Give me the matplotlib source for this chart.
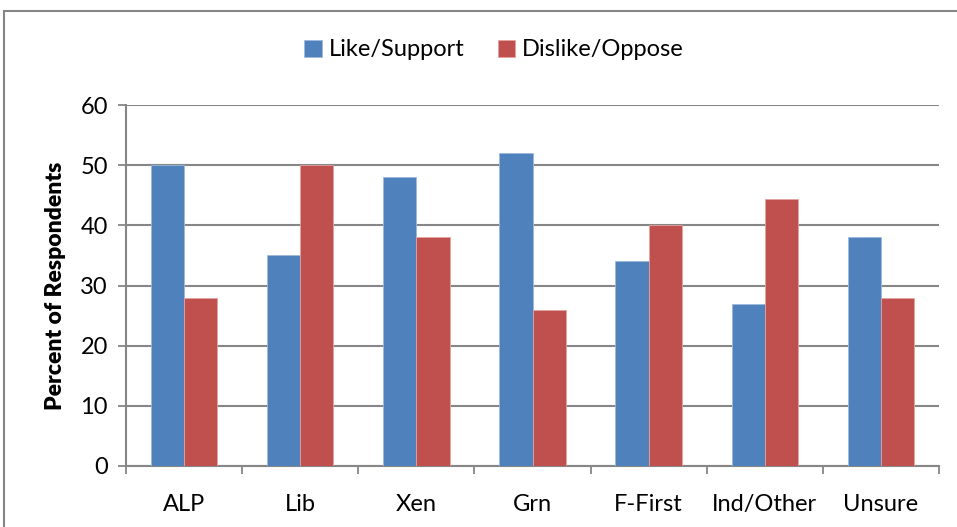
import numpy as np
import matplotlib.pyplot as plt
from matplotlib.patches import Rectangle

## Data
parties = ["ALP", "Lib", "Xen", "Grn", "F-First", "Ind/Other", "Unsure"]
like_support = [50, 35, 48, 52, 34, 27, 38]
dislike_oppose = [28, 50, 38, 26, 40, 44.4, 28]

blue = "#4F81BD"
red = "#C0504D"
grey = "#868686"

plt.rcParams['font.family'] = ['Lato', 'DejaVu Sans']

fig = plt.figure(figsize=(9.57, 5.27), dpi=100)
ax = fig.add_axes([126/957, 1 - 466/527, (939 - 126)/957, (466 - 105)/527])

# outer chart border like excel
fig.patches.append(Rectangle((4/957, -0.05), 1.1, 1 - 11/527 + 0.05,
                             transform=fig.transFigure, fill=False,
                             edgecolor=grey, linewidth=1.5))

x = np.arange(len(parties))
w = 1 / 3.5
ax.bar(x - w/2, like_support, w, color=blue, edgecolor="#9DB9DC", linewidth=0.6,
       label="Like/Support", zorder=3)
ax.bar(x + w/2, dislike_oppose, w, color=red, edgecolor="#E3A3A1", linewidth=0.6,
       label="Dislike/Oppose", zorder=3)

ax.set_xlim(-0.5, len(parties) - 0.5)
ax.set_ylim(0, 60)
ax.set_yticks(range(0, 61, 10))
ax.tick_params(axis='y', labelsize=17, length=6, width=1.3, color=grey, pad=7)

# category labels between boundary ticks
ax.set_xticks(np.arange(len(parties) + 1) - 0.5)
ax.set_xticklabels([])
ax.set_xticks(x, minor=True)
ax.set_xticklabels(parties, minor=True, fontsize=17)
ax.tick_params(axis='x', which='major', length=6, width=1.3, color=grey)
ax.tick_params(axis='x', which='minor', length=0, pad=20)

ax.grid(axis='y', color=grey, linewidth=1.5, zorder=0)
for s in ["top", "right"]:
    ax.spines[s].set_visible(False)
for s in ["left", "bottom"]:
    ax.spines[s].set_color(grey)
    ax.spines[s].set_linewidth(1.5)

ax.set_ylabel("Percent of Respondents", fontsize=16.5, fontweight="heavy", labelpad=10)

fig.legend(loc="center", bbox_to_anchor=(494/957, 1 - 50/527), ncol=2, frameon=False,
           fontsize=17, handlelength=0.75, handleheight=0.75, handletextpad=0.3,
           columnspacing=1.4)

fig.savefig("out.png", dpi=100)
